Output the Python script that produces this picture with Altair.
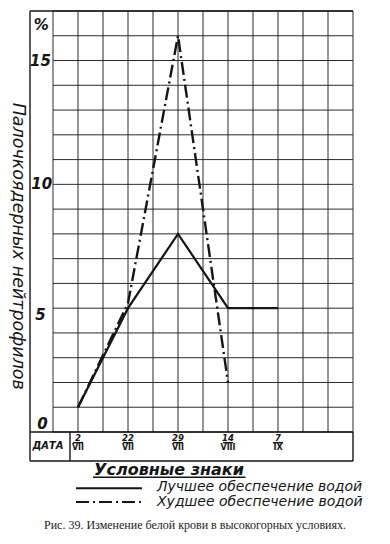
import altair as alt
import pandas as pd

# ---- data ----
dates_day = ["2", "22", "29", "14", "7"]
dates_month = ["VII", "VII", "VII", "VIII", "IX"]
best_values = [1, 5, 8, 5, 5]          # Лучшее обеспечение водой
worst_values = [1, 5.2, 16, 2]         # Худшее обеспечение водой
y_tick_labels = ["15", "10", "5", "0"]
y_tick_values = [15, 10, 5, 0]
grid_cols = list(range(13))
grid_rows = list(range(18))

INK = "#151515"
HAND = "DejaVu Sans"

# x position of each date on the grid (every second grid line)
date_pos = [1 + 2 * i for i in range(len(dates_day))]

xs = alt.Scale(domain=[0, 12], nice=False, zero=False)
ys = alt.Scale(domain=[0, 17], nice=False, zero=False)

def X(f="x"):
    return alt.X(f"{f}:Q", scale=xs, axis=None)

def Y(f="y"):
    return alt.Y(f"{f}:Q", scale=ys, axis=None)

# ---- grid ----
vgrid = pd.DataFrame({"x": grid_cols, "y": 0, "y2": 17})
hgrid = pd.DataFrame({"y": grid_rows, "x": 0, "x2": 12})
grid_v = alt.Chart(vgrid).mark_rule(color="#2a2a2a", strokeWidth=1, clip=False).encode(
    x=X(), y=Y(), y2="y2:Q")
grid_h = alt.Chart(hgrid).mark_rule(color="#2a2a2a", strokeWidth=1, clip=False).encode(
    y=Y(), x=X(), x2="x2:Q")

# ---- frame: label column, date row ----
L, B = -0.92, -1.17
frame = pd.DataFrame({
    "x":  [L, L, L, L, 12, 0.68],
    "x2": [12, 12, 12, L, 12, 0.68],
    "y":  [17, 0, B, B, B, B],
    "y2": [17, 0, B, 17, 0, 0],
})
frame_rules = alt.Chart(frame).mark_rule(color=INK, strokeWidth=1.4, clip=False).encode(
    x=X(), x2="x2:Q", y=Y(), y2="y2:Q")

# ---- series ----
best_df = pd.DataFrame({"x": date_pos, "y": best_values})
worst_df = pd.DataFrame({"x": date_pos[:len(worst_values)], "y": worst_values})
best_line = alt.Chart(best_df).mark_line(color=INK, strokeWidth=2.2, clip=False).encode(
    x=X(), y=Y())
worst_line = alt.Chart(worst_df).mark_line(color=INK, strokeWidth=2.4,
                                           strokeDash=[13, 4, 2, 4], clip=False).encode(
    x=X(), y=Y())

# ---- y tick labels ----
ytick_df = pd.DataFrame({
    "t": y_tick_labels + ["%"],
    "x": [-0.5, -0.45, -0.5, -0.42, -0.47],
    "y": [15, 10, 4.72, 0.33, 16.45],
})
ytick_text = alt.Chart(ytick_df).mark_text(font=HAND, fontSize=15, fontWeight="bold",
                                           fontStyle="italic", color=INK, clip=False).encode(
    x=X(), y=Y(), text="t:N")

ytitle = alt.Chart(pd.DataFrame({"t": ["Палочкоядерных нейтрофилов"], "x": [-1.42], "y": [7.5]})).mark_text(
    font=HAND, fontSize=17.5, fontStyle="italic", angle=90, color=INK, clip=False).encode(
    x=X(), y=Y(), text="t:N")

# ---- date row ----
date_df = pd.DataFrame({"x": date_pos, "d": dates_day, "m": dates_month})
date_day_text = alt.Chart(date_df.assign(y=-0.25)).mark_text(
    font=HAND, fontSize=8.5, fontWeight="bold", fontStyle="italic", color=INK, clip=False).encode(
    x=X(), y=Y(), text="d:N")
date_month_text = alt.Chart(date_df.assign(y=-0.66)).mark_text(
    font=HAND, fontSize=8, fontWeight="bold", color=INK, clip=False).encode(
    x=X(), y=Y(), text="m:N")
date_bar_df = date_df.assign(x1=date_df["x"] - 0.2, x2=date_df["x"] + 0.2, y=-0.43)
date_bars = alt.Chart(date_bar_df).mark_rule(color=INK, strokeWidth=1.4, clip=False).encode(
    x=X("x1"), x2="x2:Q", y=Y())
data_label = alt.Chart(pd.DataFrame({"t": ["ДАТА"], "x": [-0.2], "y": [-0.55]})).mark_text(
    font=HAND, fontSize=10, fontWeight="bold", fontStyle="italic", color=INK, clip=False).encode(
    x=X(), y=Y(), text="t:N")

# ---- legend ----
leg_title = alt.Chart(pd.DataFrame({"t": ["Условные знаки"], "x": [4.64], "y": [-1.52]})).mark_text(
    font=HAND, fontSize=16, fontWeight="bold", fontStyle="italic", color=INK, clip=False).encode(
    x=X(), y=Y(), text="t:N")
leg_underline = alt.Chart(pd.DataFrame({"x": [1.6], "x2": [7.7], "y": [-1.83]})).mark_rule(
    color=INK, strokeWidth=1.6, clip=False).encode(x=X(), x2="x2:Q", y=Y())
leg_solid = alt.Chart(pd.DataFrame({"x": [0.92], "x2": [3.56], "y": [-2.27]})).mark_rule(
    color=INK, strokeWidth=2, clip=False).encode(x=X(), x2="x2:Q", y=Y())
leg_dash = alt.Chart(pd.DataFrame({"x": [0.92], "x2": [3.56], "y": [-2.83]})).mark_rule(
    color=INK, strokeWidth=2, strokeDash=[13, 4, 2, 4], clip=False).encode(x=X(), x2="x2:Q", y=Y())
leg_text = alt.Chart(pd.DataFrame({
    "t": ["Лучшее обеспечение водой", "Худшее обеспечение водой"],
    "x": [4.16, 4.16], "y": [-2.21, -2.81]})).mark_text(
    font=HAND, fontSize=14, fontStyle="italic", align="left", color=INK, clip=False).encode(
    x=X(), y=Y(), text="t:N")

caption = alt.Chart(pd.DataFrame({
    "t": ["Рис. 39. Изменение белой крови в высокогорных условиях."],
    "x": [5.68], "y": [-3.77]})).mark_text(
    font="Liberation Serif", fontSize=12, color="#222", clip=False).encode(
    x=X(), y=Y(), text="t:N")

chart = alt.layer(
    grid_v, grid_h, frame_rules, best_line, worst_line, ytick_text, ytitle,
    date_day_text, date_month_text, date_bars, data_label,
    leg_title, leg_underline, leg_solid, leg_dash, leg_text, caption,
).properties(
    width=300, height=421,
    padding={"left": 53, "top": 11, "right": 37, "bottom": 112},
    autosize=alt.AutoSizeParams(type="none"),
    background="white",
).configure_view(stroke=None)

chart.save("out.html", embed_options={"renderer": "svg", "actions": False})
